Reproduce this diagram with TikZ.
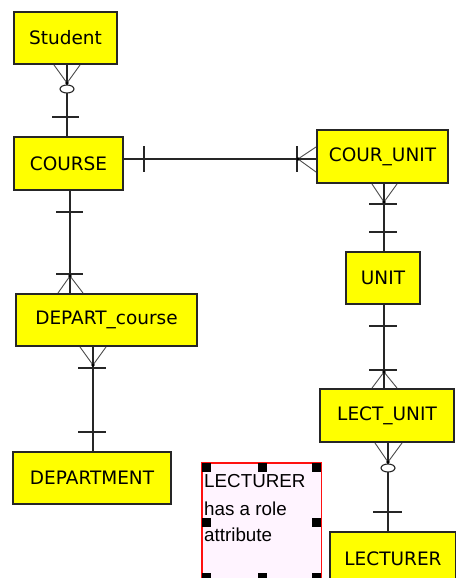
\documentclass[tikz,border=0pt]{standalone}
\usepackage{fontspec}
\setmainfont{DejaVu Sans}
\newfontfamily\notefont{Liberation Sans}
\definecolor{entyellow}{HTML}{FFFF00}
\definecolor{notepink}{HTML}{FFF4FF}
\definecolor{noteborder}{HTML}{FF1010}
\begin{document}
\begin{tikzpicture}[x=1pt,y=-1pt,
  entity/.style={draw=black!85,line width=1.3pt,fill=entyellow,inner sep=0pt,
    font=\fontsize{18.5}{22}\selectfont},
  rel/.style={draw=black!85,line width=1.3pt},
  foot/.style={draw=black!70,line width=0.9pt},
  handle/.style={fill=black,draw=none},
  notetext/.style={font=\notefont\fontsize{18.8}{22}\selectfont,inner sep=0pt,anchor=base west}]
\useasboundingbox (0,0) rectangle (455,578);
\fill[white] (0,0) rectangle (455,578);

% entities
\node[entity,minimum width=103pt,minimum height=52pt] (student) at (65.5,38) {Student};
\node[entity,minimum width=109pt,minimum height=53pt] (course) at (68.5,163.5) {COURSE};
\node[entity,minimum width=131pt,minimum height=53pt] (courunit) at (382.5,156.5) {COUR\_UNIT};
\node[entity,minimum width=74pt,minimum height=52pt] (unit) at (383,278) {UNIT};
\node[entity,minimum width=134pt,minimum height=53pt] (lectunit) at (387,415.5) {LECT\_UNIT};
\node[entity,minimum width=126pt,minimum height=53pt] (lecturer) at (393,558.5) {LECTURER};
\node[entity,minimum width=181pt,minimum height=52pt] (departcourse) at (106.5,320) {DEPART\_course};
\node[entity,minimum width=158pt,minimum height=52pt] (department) at (92,478) {DEPARTMENT};

% note
\node[fill=notepink,minimum width=119pt,minimum height=119pt,inner sep=0pt,anchor=north west] (note) at (202,463) {};
\draw[noteborder,line width=1.4pt] (note.north west) rectangle (note.south east);
\node[notetext] (noteA) at (204,487) {LECTURER};
\node[notetext] (noteB) at (204,515) {has a role};
\node[notetext] (noteC) at (204,541) {attribute};
\fill[handle] (202,463) rectangle (211,472);
\fill[handle] (257.5,463) rectangle (266.5,472);
\fill[handle] (312,463) rectangle (321,472);
\fill[handle] (202,518) rectangle (211,527);
\fill[handle] (312,518) rectangle (321,527);
\fill[handle] (202,573) rectangle (211,582);
\fill[handle] (257.5,573) rectangle (266.5,582);
\fill[handle] (312,573) rectangle (321,582);

% Student -- COURSE
\draw[rel] (67,0 |- student.south) -- (67,0 |- course.north);
\draw[foot] (54,65) -- (67,83) -- (80,65);
\fill (67,83) circle (1.8pt);
\draw[rel,line width=1.1pt,fill=white] (67,89) ellipse (7pt and 4pt);
\draw[rel] (52,117) -- (79,117);

% COURSE -- COUR_UNIT
\draw[rel] (course.east |- 0,159) -- (courunit.west |- 0,159);
\draw[rel] (144,146) -- (144,172);
\draw[rel] (297,146) -- (297,172);
\draw[foot] (316,147) -- (298,159) -- (316,172);
\fill (298,159) circle (1.8pt);

% COURSE -- DEPART_course
\draw[rel] (70,0 |- course.south) -- (70,0 |- departcourse.north);
\draw[rel] (56,212) -- (83,212);
\draw[rel] (56,274) -- (83,274);
\draw[foot] (58,293) -- (70,276) -- (83,293);
\fill (70,276) circle (1.8pt);

% DEPART_course -- DEPARTMENT
\draw[rel] (93,0 |- departcourse.south) -- (93,0 |- department.north);
\draw[foot] (80,347) -- (93,365) -- (106,347);
\fill (93,365) circle (1.8pt);
\draw[rel] (78,368) -- (106,368);
\draw[rel] (78,432) -- (106,432);

% COUR_UNIT -- UNIT
\draw[rel] (384,0 |- courunit.south) -- (384,0 |- unit.north);
\draw[foot] (372,184) -- (384,202) -- (397,184);
\fill (384,202) circle (1.8pt);
\draw[rel] (369,204) -- (397,204);
\draw[rel] (369,232) -- (397,232);

% UNIT -- LECT_UNIT
\draw[rel] (384,0 |- unit.south) -- (384,0 |- lectunit.north);
\draw[rel] (369,326) -- (397,326);
\draw[rel] (369,370) -- (397,370);
\draw[foot] (372,388) -- (384,372) -- (397,388);
\fill (384,372) circle (1.8pt);

% LECT_UNIT -- LECTURER
\draw[rel] (388,0 |- lectunit.south) -- (388,0 |- lecturer.north);
\draw[foot] (375,443) -- (388,462) -- (402,443);
\fill (388,462) circle (1.8pt);
\draw[rel,line width=1.1pt,fill=white] (388,468) ellipse (7pt and 4pt);
\draw[rel] (373,512) -- (402,512);
\end{tikzpicture}
\end{document}
